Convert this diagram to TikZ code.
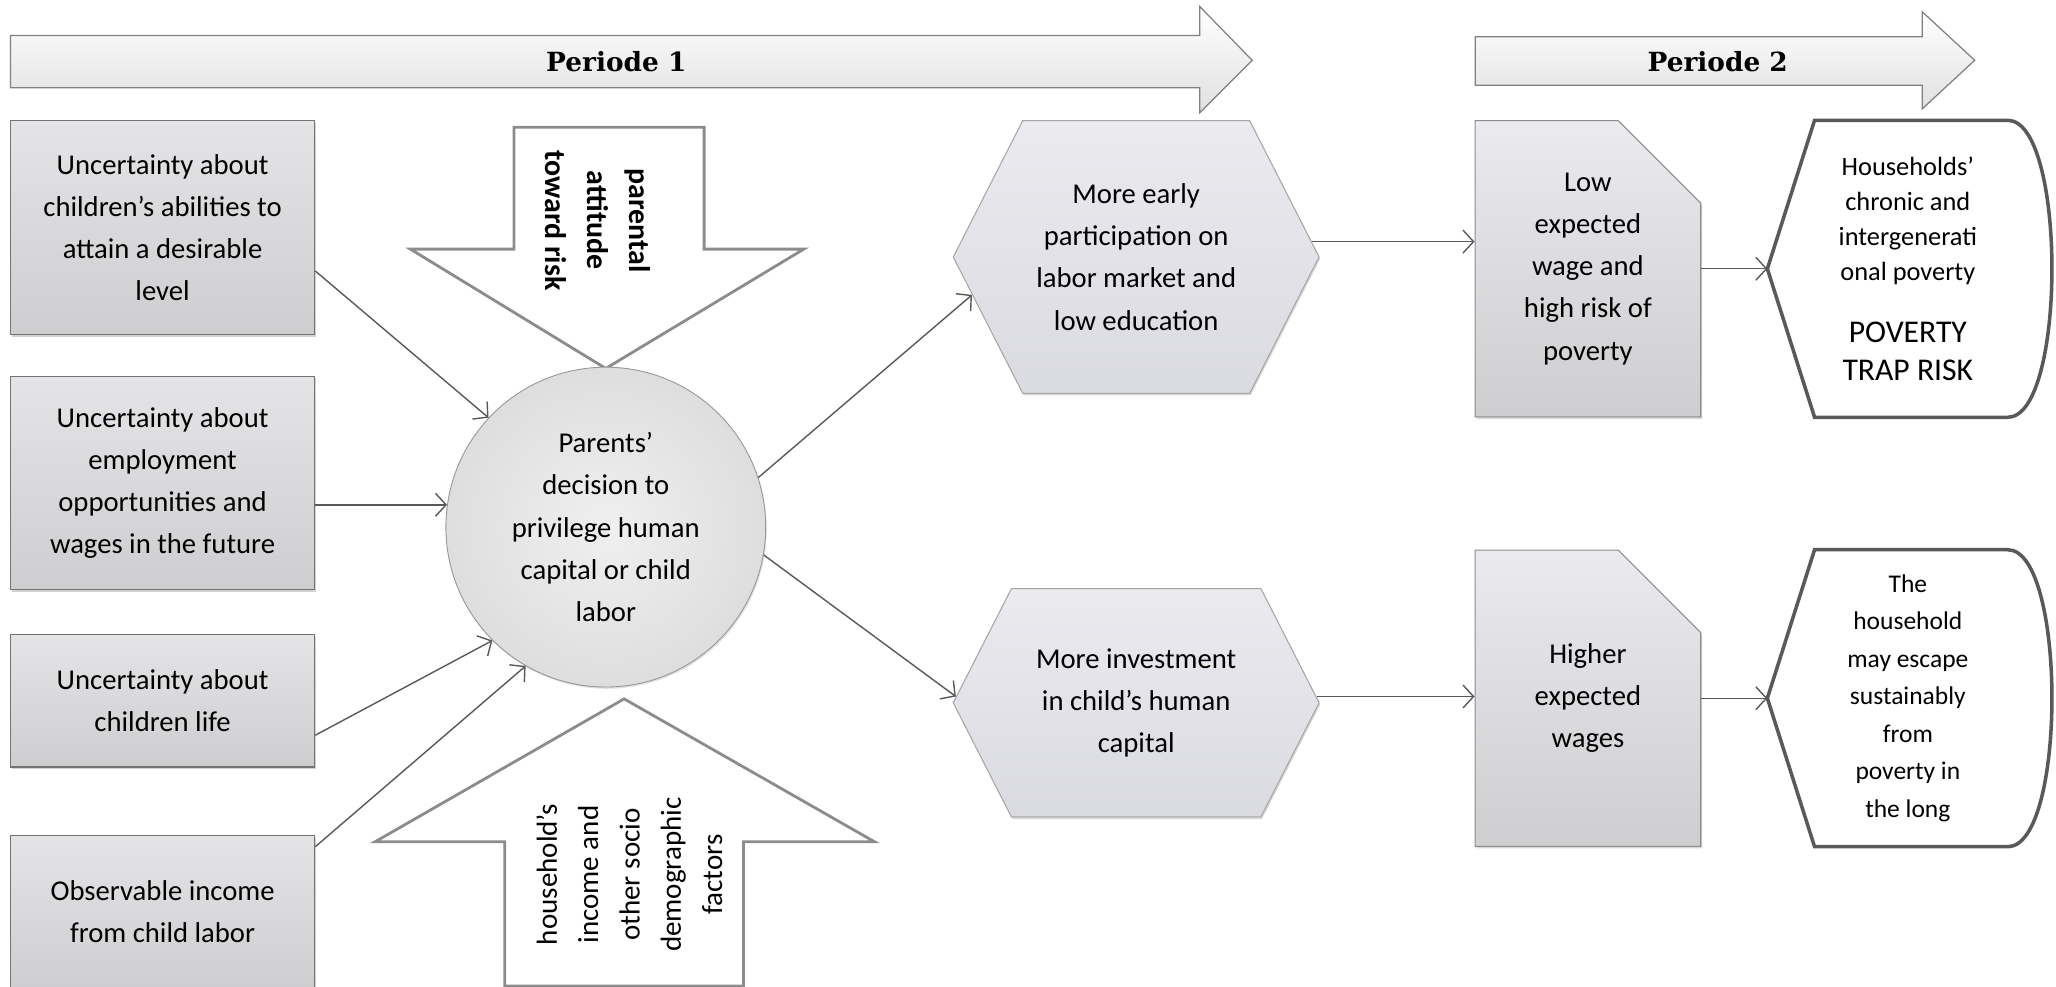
\documentclass[tikz,border=0pt]{standalone}
\usepackage{fontspec}
\setmainfont{Carlito}
\newfontfamily\periodfont{DejaVu Serif}
\usepackage{tikz}
\usetikzlibrary{positioning,calc,shadows,shapes.symbols,shapes.misc,arrows.meta,backgrounds}

\definecolor{boxtop}{RGB}{228,228,230}
\definecolor{boxbot}{RGB}{206,206,208}
\definecolor{hextop}{RGB}{234,234,239}
\definecolor{hexbot}{RGB}{218,218,225}
\definecolor{ringline}{RGB}{150,150,155}

\tikzset{
  cause/.style={rectangle,draw=black!55,line width=0.7pt,top color=boxtop,bottom color=boxbot,
    minimum width=6.08cm,align=center,inner sep=2pt,
    drop shadow={shadow xshift=0.8pt,shadow yshift=-1.3pt,opacity=0.35}},
  decide/.style={circle,minimum size=6.39cm,inner sep=0pt,draw=ringline,line width=0.5pt,
    inner color=black!6,outer color=black!13,align=center,
    drop shadow={shadow xshift=0.6pt,shadow yshift=-1pt,opacity=0.25}},
  hexa/.style={signal,signal to=east and west,signal pointer angle=126,minimum width=7.31cm,
    draw=black!35,line width=0.6pt,top color=hextop,bottom color=hexbot,align=center,
    drop shadow={shadow xshift=0.6pt,shadow yshift=-1.2pt,opacity=0.3}},
  wage/.style={chamfered rectangle,chamfered rectangle corners=north east,
    chamfered rectangle xsep=0.73cm,chamfered rectangle ysep=0.92cm,
    minimum width=4.51cm,minimum height=5.92cm,draw=black!45,line width=0.6pt,
    top color=hextop,bottom color=boxbot,align=center,
    drop shadow={shadow xshift=0.8pt,shadow yshift=-1.2pt,opacity=0.3}},
  fate/.style={rectangle,minimum width=5.6cm,minimum height=5.92cm,align=center,inner sep=0pt},
  fateline/.style={draw=black!65,line width=2pt,fill=white},
  bigarrow/.style={draw=black!45,line width=1.6pt,fill=white,line join=miter},
  period/.style={draw=black!50,line width=0.7pt,top color=white,bottom color=black!12},
  periodlabel/.style={font=\periodfont\bfseries\fontsize{15}{18}\selectfont},
  flow/.style={draw=black!65,line width=0.8pt,-{Straight Barb[length=6pt,width=13pt]}}
}

\begin{document}
\begin{tikzpicture}[x=0.0262cm,y=-0.0262cm,font=\fontsize{16.3}{24}\selectfont]
\path[use as bounding box] (0,0) rectangle (1568,752);

%time line
\draw[period] (8,27) -- (915,27) -- (915,5) -- (955,46) -- (915,86) -- (915,67) -- (8,67) -- cycle;
\node[periodlabel] (per-one) at (470,47) {Periode 1};
\draw[period] (1125,28) -- (1466,28) -- (1466,9) -- (1506,46) -- (1466,83) -- (1466,65) -- (1125,65) -- cycle;
\node[periodlabel] (per-two) at (1310,47) {Periode 2};

%causes
\node[cause,minimum height=4.27cm] (unc-ability) at (124,173.5) {Uncertainty about\\children’s abilities to\\attain a desirable\\level};
\node[cause,minimum height=4.27cm,below=0.81cm of unc-ability] (unc-job) {Uncertainty about\\employment\\opportunities and\\wages in the future};
\node[cause,minimum height=2.65cm,below=0.865cm of unc-job] (unc-life) {Uncertainty about\\children life};
\node[cause,minimum height=3.04cm,below=1.34cm of unc-life] (child-income) {Observable income\\from child labor};

%big arrows
\draw[bigarrow] (392,97) -- (537,97) -- (537,190) -- (613,190) -- (462,281) -- (313,190) -- (392,190) -- cycle;
\node[rotate=-90,align=center,font=\bfseries\fontsize{17}{24}\selectfont] (risk) at (456,168) {parental\\attitude\\toward risk};
\draw[bigarrow] (385,752) -- (385,642) -- (286,642) -- (476,533) -- (667,642) -- (567,642) -- (567,752) -- cycle;
\node[rotate=90,align=center,font=\fontsize{16.5}{23.5}\selectfont] (socio) at (480,667) {household’s\\income and\\other socio\\demographic\\factors};

%decision
\node[decide] (dec) at (462,402) {Parents’\\decision to\\privilege human\\capital or child\\labor};

%outcomes
\node[hexa,minimum height=5.45cm] (hexA) at (866.5,196) {More early\\participation on\\labor market and\\low education};
\node[hexa,minimum height=4.56cm] (hexB) at (866.5,536) {More investment\\in child’s human\\capital};
\node[wage] (docA) at (1211,205) {Low\\expected\\wage and\\high risk of\\poverty};
\node[wage] (docB) at (1211,532.5) {Higher\\expected\\wages};
\node[fate,font=\fontsize{15}{20}\selectfont] (trapA) at (1455,205) {Households’\\chronic and\\intergenerati\\onal poverty\\[15pt]{\fontsize{18}{22}\selectfont POVERTY}\\[2pt]{\fontsize{18}{22}\selectfont TRAP RISK}};
\node[fate,font=\fontsize{14.5}{21.3}\selectfont] (trapB) at (1455,532.5) {The\\household\\may escape\\sustainably\\from\\poverty in\\the long};

\begin{pgfonlayer}{background}
  \draw[fateline] (trapA.west) -- ($(trapA.north west)+(36,0)$) -- ($(trapA.north east)+(-31,0)$)
    .. controls ($(trapA.north east)+(14,0)$) and ($(trapA.south east)+(14,0)$) .. ($(trapA.south east)+(-31,0)$)
    -- ($(trapA.south west)+(36,0)$) -- cycle;
  \draw[fateline] (trapB.west) -- ($(trapB.north west)+(36,0)$) -- ($(trapB.north east)+(-31,0)$)
    .. controls ($(trapB.north east)+(14,0)$) and ($(trapB.south east)+(14,0)$) .. ($(trapB.south east)+(-31,0)$)
    -- ($(trapB.south west)+(36,0)$) -- cycle;
\end{pgfonlayer}

%edges
\draw[flow] ([yshift=-0.87cm]unc-ability.east) -- (dec.137);
\draw[flow] (unc-job.east |- dec.172) -- (dec.172);
\draw[flow] ([yshift=-0.69cm]unc-life.east) -- (dec.225);
\draw[flow] ([yshift=-0.24cm]child-income.north east) -- (dec.240);
\draw[flow] (dec.18) -- (hexA.193);
\draw[flow] (dec.-10) -- (hexB.178);
\draw[flow] (hexA.5) -- (hexA.5 -| docA.west);
\draw[flow] (hexB.2) -- (hexB.2 -| docB.west);
\draw[flow] (docA.east |- trapA.west) -- (trapA.west);
\draw[flow] (docB.east |- trapB.west) -- (trapB.west);
\end{tikzpicture}
\end{document}
